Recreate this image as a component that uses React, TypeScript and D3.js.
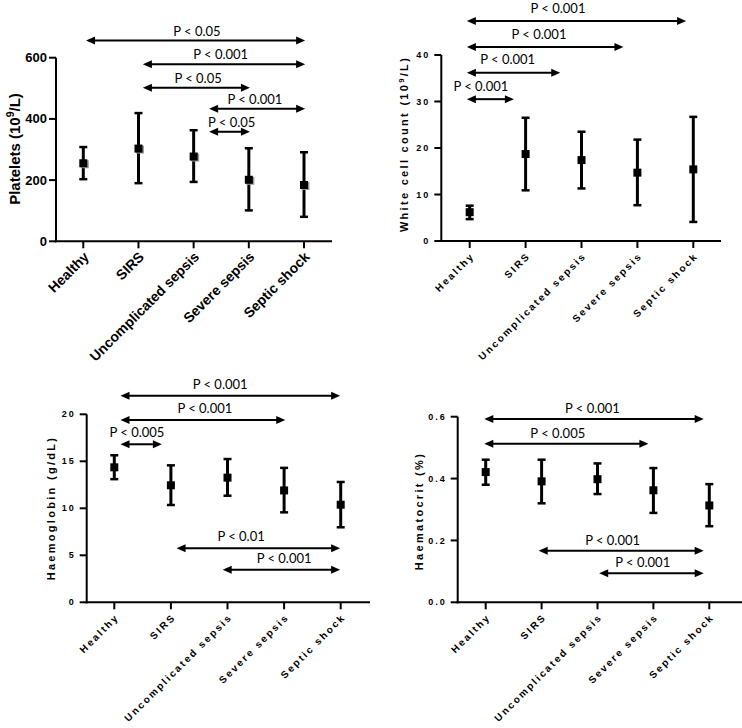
import React from 'react';
import * as d3 from 'd3';

const categories = ['Healthy', 'SIRS', 'Uncomplicated sepsis', 'Severe sepsis', 'Septic shock'];

// Platelets (10^9/L)
const plateletMean = [255, 303, 277, 201, 184];
const plateletUpper = [308, 419, 363, 304, 291];
const plateletLower = [203, 190, 194, 101, 80];
const plateletTicks = [0, 200, 400, 600];
const plateletSigFrom = [0.05, 1.08, 1.08, 2.28, 2.28];
const plateletSigTo = [4.02, 4.02, 3.02, 4.02, 3.02];
const plateletSigY = [656, 579, 502, 433, 358];
const plateletSigLabel = ['P < 0.05', 'P < 0.001', 'P < 0.05', 'P < 0.001', 'P < 0.05'];
const plateletSigLabelX = [2.06, 2.49, 2.08, 3.11, 2.69];

// White cell count (10^9/L)
const wccMean = [6.2, 18.7, 17.4, 14.7, 15.4];
const wccUpper = [7.6, 26.5, 23.5, 21.8, 26.7];
const wccLower = [4.7, 10.9, 11.3, 7.7, 4.1];
const wccTicks = [0, 10, 20, 30, 40];
const wccSigFrom = [-0.05, -0.05, -0.05, -0.05];
const wccSigTo = [3.87, 2.75, 1.62, 0.79];
const wccSigY = [47.3, 41.7, 36.2, 30.5];
const wccSigLabel = ['P < 0.001', 'P < 0.001', 'P < 0.001', 'P < 0.001'];
const wccSigLabelX = [1.58, 1.24, 0.68, 0.2];

// Haemoglobin (g/dL)
const hbMean = [14.36, 12.45, 13.26, 11.9, 10.38];
const hbUpper = [15.64, 14.57, 15.24, 14.3, 12.8];
const hbLower = [13.1, 10.35, 11.34, 9.57, 7.98];
const hbTicks = [0, 5, 10, 15, 20];
const hbSigFrom = [0.11, 0.11, 0.11, 1.1, 1.915];
const hbSigTo = [3.99, 3.02, 0.84, 3.99, 3.99];
const hbSigY = [21.98, 19.39, 16.81, 5.74, 3.47];
const hbSigLabel = ['P < 0.001', 'P < 0.001', 'P < 0.005', 'P < 0.01', 'P < 0.001'];
const hbSigLabelX = [1.87, 1.6, 0.4, 2.24, 3.0];

// Haematocrit (%)
const hctMean = [0.421, 0.391, 0.398, 0.362, 0.313];
const hctUpper = [0.461, 0.461, 0.449, 0.434, 0.382];
const hctLower = [0.38, 0.32, 0.35, 0.289, 0.246];
const hctTicks = [0, 0.2, 0.4, 0.6];
const hctSigFrom = [-0.025, -0.025, 0.948, 2.03];
const hctSigTo = [3.9, 2.91, 3.9, 3.9];
const hctSigY = [0.5926, 0.5128, 0.1668, 0.0938];
const hctSigLabel = ['P < 0.001', 'P < 0.005', 'P < 0.001', 'P < 0.001'];
const hctSigLabelX = [1.91, 1.29, 2.27, 2.81];

type Geo = {
  axisX: number; x0: number; x1: number; axisEnd: number;
  yBottom: number; yTop: number; yMax: number;
  labelX: number; labelY: number; sigGap: number;
};

type Props = {
  geo: Geo;
  mean: number[]; upper: number[]; lower: number[]; ticks: number[];
  tickFmt: (v: number) => string;
  sigFrom: number[]; sigTo: number[]; sigY: number[]; sigLabel: string[]; sigLabelX: number[];
  yLabel: string; yLabelSuffix?: string; hasSup?: boolean;
  spaced: boolean; shadow?: boolean;
};

const AXIS_FONT = '"Liberation Sans", Arial, sans-serif';
const P_FONT = 'Lato, "Open Sans", sans-serif';

function Arrow({ xa, xb, y }: { xa: number; xb: number; y: number }) {
  const hl = 9, hw = 4;
  return (
    <g>
      <line x1={xa + hl - 1} x2={xb - hl + 1} y1={y} y2={y} stroke="#000" strokeWidth={2} />
      <path d={`M${xa},${y}L${xa + hl},${y - hw}L${xa + hl},${y + hw}Z`} fill="#000" />
      <path d={`M${xb},${y}L${xb - hl},${y - hw}L${xb - hl},${y + hw}Z`} fill="#000" />
    </g>
  );
}

function Panel(p: Props) {
  const g = p.geo;
  const x = d3.scaleLinear().domain([0, categories.length - 1]).range([g.x0, g.x1]);
  const y = d3.scaleLinear().domain([0, g.yMax]).range([g.yBottom, g.yTop]);
  const tickFs = p.spaced ? 9 : 13;
  const tickLs = p.spaced ? 2 : 0;
  const xFs = p.spaced ? 10 : 14;
  const xLs = p.spaced ? 2.1 : 0;
  const yFs = p.spaced ? 11 : 15;
  const yLs = p.spaced ? 2.3 : 0;
  const cap = 4;
  const sq = 8;
  return (
    <g>
      {/* axes */}
      <line x1={g.axisX} x2={g.axisX} y1={g.yBottom + 1} y2={y(g.yMax)} stroke="#000" strokeWidth={2} />
      <line x1={g.axisX - 1} x2={g.axisEnd} y1={g.yBottom} y2={g.yBottom} stroke="#000" strokeWidth={2} />
      {p.ticks.map((t, i) => (
        <g key={'yt' + i}>
          <line x1={g.axisX - 7} x2={g.axisX} y1={y(t)} y2={y(t)} stroke="#000" strokeWidth={2} />
          <text x={g.axisX - 9 - tickLs} y={y(t)} dy="0.35em" textAnchor="end"
            fontFamily={AXIS_FONT} fontWeight="bold" fontSize={tickFs} letterSpacing={tickLs}>
            {p.tickFmt(t)}
          </text>
        </g>
      ))}
      {categories.map((c, i) => (
        <g key={'xt' + i}>
          <line x1={x(i)} x2={x(i)} y1={g.yBottom} y2={g.yBottom + 7} stroke="#000" strokeWidth={2} />
          <text transform={`translate(${x(i) + 3},${g.yBottom + 13}) rotate(-45)`} textAnchor="end"
            dy="0.35em" fontFamily={AXIS_FONT} fontWeight="bold" fontSize={xFs} letterSpacing={xLs}>
            {c}
          </text>
        </g>
      ))}
      <text transform={`translate(${g.labelX},${g.labelY}) rotate(-90)`} textAnchor="middle" dy="0.35em"
        fontFamily={AXIS_FONT} fontWeight="bold" fontSize={yFs} letterSpacing={yLs}>
        {p.hasSup ? (
          <>
            {p.yLabel}
            <tspan baselineShift="super" fontSize={yFs * 0.7}>9</tspan>
            <tspan>{p.yLabelSuffix}</tspan>
          </>
        ) : p.yLabel}
      </text>
      {/* error bars */}
      {categories.map((c, i) => (
        <g key={'eb' + i}>
          <line x1={x(i)} x2={x(i)} y1={y(p.upper[i])} y2={y(p.lower[i])} stroke="#000" strokeWidth={3} />
          <line x1={x(i) - cap} x2={x(i) + cap} y1={y(p.upper[i])} y2={y(p.upper[i])} stroke="#000" strokeWidth={2.5} />
          <line x1={x(i) - cap} x2={x(i) + cap} y1={y(p.lower[i])} y2={y(p.lower[i])} stroke="#000" strokeWidth={2.5} />
          {p.shadow && (
            <rect x={x(i) - sq / 2 + 1.5} y={y(p.mean[i]) - sq / 2 + 1} width={sq} height={sq} fill="#9a9a9a" />
          )}
          <rect x={x(i) - sq / 2} y={y(p.mean[i]) - sq / 2} width={sq} height={sq} fill="#000" />
        </g>
      ))}
      {/* significance annotations */}
      {p.sigLabel.map((l, i) => (
        <g key={'sig' + i}>
          <Arrow xa={x(p.sigFrom[i])} xb={x(p.sigTo[i])} y={y(p.sigY[i])} />
          <text x={x(p.sigLabelX[i])} y={y(p.sigY[i]) - g.sigGap} textAnchor="middle"
            fontFamily={P_FONT} fontSize={13} fill="#000">
            {l}
          </text>
        </g>
      ))}
    </g>
  );
}

const fmtInt = (v: number) => d3.format('d')(v);
const fmt1 = (v: number) => d3.format('.1f')(v);

export default function App() {
  return (
    <svg width={742} height={728} style={{ position: 'absolute', left: 0, top: 0, background: '#fff' }}>
      <rect width={742} height={728} fill="#fff" />
      <Panel
        geo={{ axisX: 56, x0: 83.3, x1: 304, axisEnd: 332, yBottom: 241.3, yTop: 57.7, yMax: 600, labelX: 15, labelY: 149, sigGap: 5 }}
        mean={plateletMean} upper={plateletUpper} lower={plateletLower} ticks={plateletTicks} tickFmt={fmtInt}
        sigFrom={plateletSigFrom} sigTo={plateletSigTo} sigY={plateletSigY} sigLabel={plateletSigLabel} sigLabelX={plateletSigLabelX}
        yLabel="Platelets (10" yLabelSuffix="/L)" hasSup spaced={false} shadow
      />
      <Panel
        geo={{ axisX: 441.3, x0: 469.7, x1: 693.3, axisEnd: 721, yBottom: 241, yTop: 55, yMax: 40, labelX: 404.3, labelY: 144, sigGap: 8.5 }}
        mean={wccMean} upper={wccUpper} lower={wccLower} ticks={wccTicks} tickFmt={fmtInt}
        sigFrom={wccSigFrom} sigTo={wccSigTo} sigY={wccSigY} sigLabel={wccSigLabel} sigLabelX={wccSigLabelX}
        yLabel="White cell count (10" yLabelSuffix="/L)" hasSup spaced
      />
      <Panel
        geo={{ axisX: 86.7, x0: 114.3, x1: 340.7, axisEnd: 370, yBottom: 602.3, yTop: 414.3, yMax: 20, labelX: 50.7, labelY: 508, sigGap: 7 }}
        mean={hbMean} upper={hbUpper} lower={hbLower} ticks={hbTicks} tickFmt={fmtInt}
        sigFrom={hbSigFrom} sigTo={hbSigTo} sigY={hbSigY} sigLabel={hbSigLabel} sigLabelX={hbSigLabelX}
        yLabel="Haemoglobin (g/dL)" spaced
      />
      <Panel
        geo={{ axisX: 457.7, x0: 485.7, x1: 709.3, axisEnd: 742, yBottom: 602.3, yTop: 416.7, yMax: 0.6, labelX: 419.3, labelY: 511, sigGap: 6 }}
        mean={hctMean} upper={hctUpper} lower={hctLower} ticks={hctTicks} tickFmt={fmt1}
        sigFrom={hctSigFrom} sigTo={hctSigTo} sigY={hctSigY} sigLabel={hctSigLabel} sigLabelX={hctSigLabelX}
        yLabel="Haematocrit (%)" spaced
      />
    </svg>
  );
}
